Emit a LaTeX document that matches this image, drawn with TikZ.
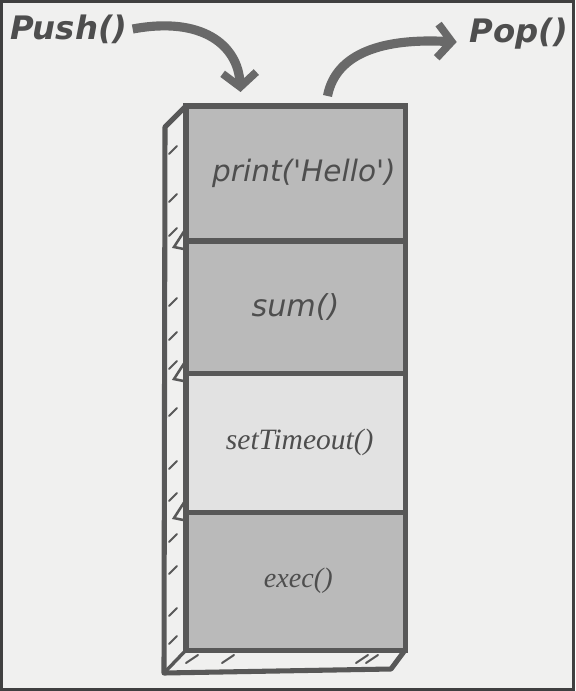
\documentclass[tikz,border=0pt]{standalone}
\usepackage{fontspec}
\usepackage{tikz}
\usetikzlibrary{positioning,calc,arrows.meta}
\newfontfamily\labelfont{DejaVu Sans}
\newfontfamily\codefont{Liberation Serif}
\definecolor{paper}{RGB}{240,240,239}
\definecolor{pencil}{RGB}{88,88,88}
\definecolor{boxgray}{RGB}{186,186,186}
\definecolor{boxlight}{RGB}{226,226,226}
\definecolor{ink}{RGB}{78,78,78}
\tikzset{
	callbox/.style={draw=pencil, line width=3.6pt, outer sep=0pt, inner sep=0pt,
		minimum width=5.475cm, text=ink},
	brush/.style={draw=pencil!90, line width=6.5pt,
		-{Straight Barb[length=10pt,width=24pt,line width=5.5pt]}},
	hatch/.style={draw=pencil, line width=1.4pt, line cap=round},
}

\begin{document}
\begin{tikzpicture}[x=0.025cm,y=-0.025cm]

\useasboundingbox (0,0) rectangle (575,691);
\fill[paper] (0,0) rectangle (575,691);
\draw[line width=2.6pt, black!75] (1.5,1.5) rectangle (573.5,689.5);

% Call stack
\node [callbox,
	fill=boxgray,
	minimum height=3.375cm,
]  (hello) at (295.5,173.5) {
\labelfont\itshape\fontsize{21}{25}\selectfont\hspace{12pt}print('Hello')
};
\node [callbox,
	fill=boxgray,
	minimum height=3.3cm,
	below = 0pt of hello
]  (sum) {
\labelfont\itshape\fontsize{21.5}{25}\selectfont sum()
};
\node [callbox,
	fill=boxlight,
	minimum height=3.475cm,
	below = 0pt of sum
]  (timeout) {
\codefont\itshape\fontsize{21}{25}\selectfont\hspace{6pt}setTimeout()
};
\node [callbox,
	fill=boxgray,
	minimum height=3.45cm,
	below = 0pt of timeout
]  (exec) {
\codefont\itshape\fontsize{20}{24}\selectfont\hspace{4pt}exec()
};

% Side and bottom of the stack
\coordinate (backtop) at (165,127);
\coordinate (backbottom) at (164,673);
\coordinate (backright) at (391,669);
\draw[pencil, line width=3.6pt, line join=round]
	(hello.north west) -- (backtop) -- (backbottom) -- (backright) -- (exec.south east);
\draw[pencil, line width=2.4pt] (exec.south west) -- (backbottom);

% Hatching on the side
\foreach \y in {150,198,232,302,336,365,412,465,497,538,570,612,640}
	\draw[hatch] (169,\y+4) -- (177,\y-4);
\foreach \b in {sum,timeout,exec}
	\draw[hatch, line width=1.8pt] ([yshift=9pt]\b.north west) -- ($(\b.north west)+(-12,6)$) -- ([yshift=-6pt]\b.north west);
\foreach \x in {192,228,362,372}
	\draw[hatch] (\x-6,663) -- (\x+6,655);

% Push and Pop
\node[text=ink] (push) at (69,29) {\labelfont\bfseries\itshape\fontsize{23}{27}\selectfont Push()};
\node[text=ink] (pop) at (519,34) {\labelfont\bfseries\itshape\fontsize{23}{27}\selectfont Pop()};

\draw[brush] (push.east) .. controls (202,16) and (238,45) .. ($(hello.north)+(-55,-14)$);
\draw[brush] ($(hello.north)+(32,-10)$) .. controls (336,52) and (385,38) .. ($(pop.west)+(-8,8)$);

\end{tikzpicture}
\end{document}
